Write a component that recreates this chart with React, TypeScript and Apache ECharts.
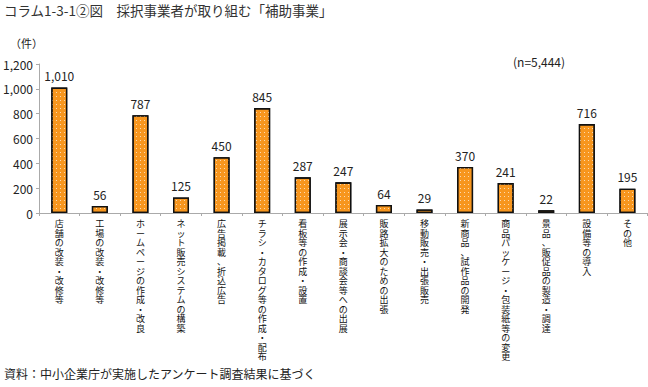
import React, { useEffect, useRef } from "react";
import * as echarts from "echarts";

const categories = [
  "店舗の改装・改修等",
  "工場の改装・改修等",
  "ホームページの作成・改良",
  "ネット販売システムの構築",
  "広告掲載、折込広告",
  "チラシ・カタログ等の作成・配布",
  "看板等の作成・設置",
  "展示会・商談会等への出展",
  "販路拡大のための出張",
  "移動販売・出張販売",
  "新商品、試作品の開発",
  "商品パッケージ・包装紙等の変更",
  "景品、販促品の製造・調達",
  "設備等の導入",
  "その他",
];
const values = [1010, 56, 787, 125, 450, 845, 287, 247, 64, 29, 370, 241, 22, 716, 195];
const yTicks = { min: 0, max: 1200, interval: 200 };

const titleText = "コラム1-3-1②図　採択事業者が取り組む「補助事業」";
const unitText = "（件）";
const nText = "(n=5,444)";
const sourceText = "資料：中小企業庁が実施したアンケート調査結果に基づく";

const FONT = '"Noto Sans CJK JP", "Noto Sans", sans-serif';
const fmt = (v: number) => v.toLocaleString("en-US");

export default function App() {
  const ref = useRef<HTMLDivElement>(null);
  useEffect(() => {
    document.body.style.margin = "0";
    if (!ref.current) return;
    const chart = echarts.init(ref.current, undefined, { renderer: "svg" });
    chart.setOption({
      animation: false,
      textStyle: { fontFamily: FONT },
      graphic: [
        { type: "text", left: 4, top: 3, style: { text: titleText, font: `13.5px ${FONT}`, fill: "#333" } },
        { type: "text", left: 10, top: 37, style: { text: unitText, font: `11px ${FONT}`, fill: "#222" } },
        { type: "text", left: 513, top: 55, style: { text: nText, font: `12px ${FONT}`, fill: "#222" } },
        { type: "text", left: 4, top: 367, style: { text: sourceText, font: `12px ${FONT}`, fill: "#222" } },
      ],
      grid: { left: 38.5, right: 0.3, top: 64, bottom: 174, containLabel: false },
      xAxis: {
        type: "category",
        data: categories,
        axisLine: { lineStyle: { color: "#aaa", width: 1 } },
        axisTick: { show: true, length: 3, lineStyle: { color: "#aaa" } },
        axisLabel: {
          interval: 0,
          margin: 6,
          fontSize: 9,
          lineHeight: 9.5,
          color: "#111",
          fontFamily: FONT,
          formatter: (v: string) => Array.from(v).join("\n"),
        },
      },
      yAxis: {
        type: "value",
        min: yTicks.min,
        max: yTicks.max,
        interval: yTicks.interval,
        axisLine: { show: true, lineStyle: { color: "#aaa", width: 1 } },
        axisTick: { show: true, length: 3, lineStyle: { color: "#aaa" } },
        splitLine: { show: false },
        axisLabel: { margin: 6, fontSize: 12, color: "#222", fontFamily: FONT, formatter: (v: number) => fmt(v) },
      },
      series: [
        {
          type: "bar",
          data: values,
          barWidth: 16,
          itemStyle: {
            color: "#F7961E",
            borderColor: "#111",
            borderWidth: 1.3,
            decal: {
              symbol: "rect",
              symbolSize: 1,
              dashArrayX: [1, 3],
              dashArrayY: [1, 3],
              color: "rgba(255,255,255,0.65)",
              rotation: 0,
            },
          },
          label: {
            show: true,
            position: "top",
            distance: 6,
            fontSize: 12,
            color: "#222",
            fontFamily: FONT,
            formatter: (p: any) => fmt(p.value),
          },
        },
      ],
    });
    return () => chart.dispose();
  }, []);
  return <div ref={ref} style={{ width: 648, height: 387 }} />;
}
